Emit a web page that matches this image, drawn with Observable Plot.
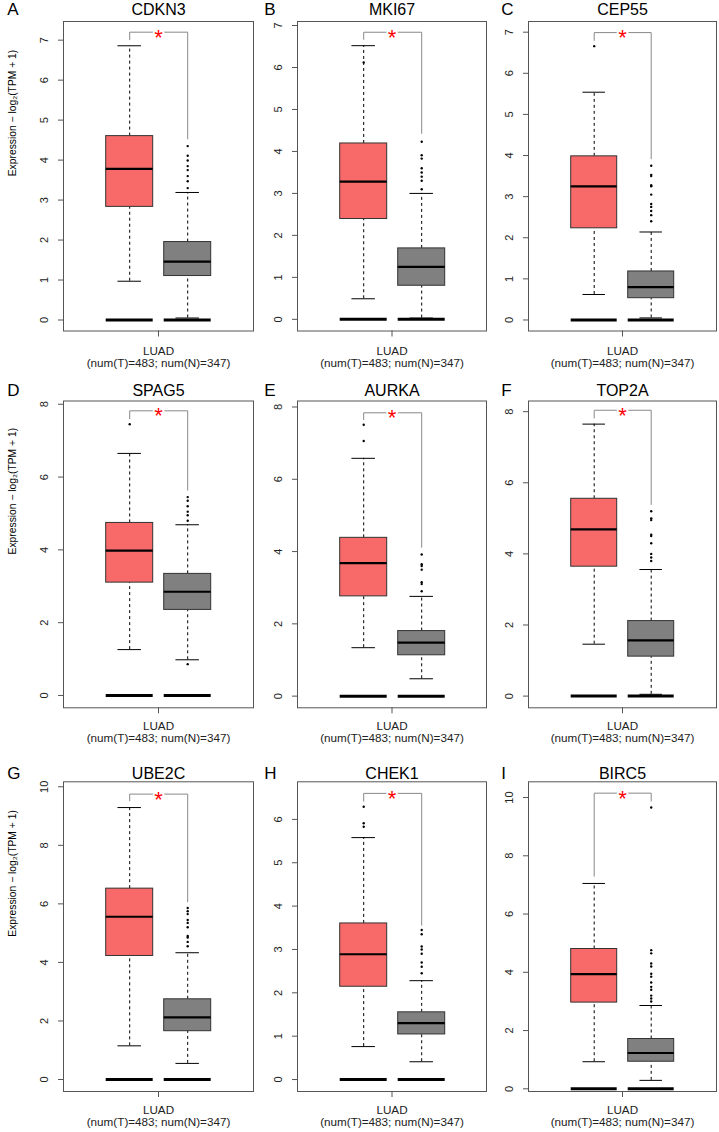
<!DOCTYPE html>
<html><head><meta charset="utf-8">
<script src="https://cdn.jsdelivr.net/npm/d3@7"></script>
<script src="https://cdn.jsdelivr.net/npm/@observablehq/plot@0.6"></script>
<style>
body{margin:0;background:#fff;}
#wrap{position:relative;width:719px;height:1132px;overflow:hidden;background:#fff;}
#wrap svg{position:absolute;}
</style></head><body><div id="wrap"></div>
<script>
// ---------- data ----------
const genes   = ["CDKN3","MKI67","CEP55","SPAG5","AURKA","TOP2A","UBE2C","CHEK1","BIRC5"];
const letters = ["A","B","C","D","E","F","G","H","I"];
const groups  = ["Tumor","Normal"];
const cancer  = "LUAD";
const numT = 483, numN = 347;
const yLabel = "Expression \u2212 log\u2082(TPM + 1)";
const sigMark = "*";
const zeroBar = 0;

// [min whisker, Q1, median, Q3, max whisker]
const tumorBox = [
  [0.97,2.83,3.78,4.60,6.86],
  [0.49,2.39,3.28,4.19,6.52],
  [0.62,2.23,3.25,3.98,5.54],
  [1.26,3.10,3.98,4.74,6.65],
  [1.34,2.76,3.68,4.38,6.58],
  [1.46,3.64,4.69,5.55,7.65],
  [1.15,4.22,5.56,6.52,9.29],
  [0.76,2.14,2.89,3.60,5.58],
  [0.93,2.96,3.94,4.80,7.05]
];
const normalBox = [
  [0.05,1.10,1.46,1.95,3.19],
  [0.03,0.80,1.25,1.69,3.00],
  [0.05,0.53,0.80,1.18,2.14],
  [0.98,2.35,2.85,3.34,4.69],
  [0.48,1.13,1.48,1.80,2.76],
  [0.05,1.11,1.57,2.11,3.56],
  [0.55,1.65,2.12,2.74,4.33],
  [0.41,1.04,1.30,1.55,2.28],
  [0.29,0.93,1.23,1.71,2.86]
];
// points lying beyond the whiskers
const tumorOutliers = [
  [], [6.12], [6.66], [7.45], [7.51,7.06], [], [], [6.29,5.91,5.83], []
];
const normalOutliers = [
  [4.35,4.11,3.99,3.85,3.75,3.60,3.47,3.30],
  [4.23,3.91,3.83,3.60,3.50,3.40,3.30,3.10],
  [3.75,3.53,3.50,3.28,3.25,3.05,2.82,2.75,2.65,2.55,2.40],
  [5.45,5.35,5.20,5.05,4.95,4.80,0.86],
  [3.92,3.65,3.60,3.50,3.15,3.10,2.90],
  [5.20,5.00,4.95,4.54,4.50,4.30,4.00,3.90,3.80],
  [5.86,5.75,5.65,5.45,5.35,5.20,4.90,4.85,4.70,4.55],
  [3.45,3.35,3.07,3.00,2.90,2.70,2.60,2.45],
  [9.66,4.76,4.65,4.30,4.20,3.95,3.85,3.65,3.50,3.40,3.20,3.10,3.00]
];
// significance bracket: [top, tumor foot, normal foot]
const bracket = [
  [7.20,7.01,4.53],[6.84,6.67,4.43],[6.99,6.80,3.92],
  [7.82,7.60,5.64],[7.84,7.65,4.12],[8.04,7.82,5.39],
  [9.75,9.52,6.07],[6.60,6.42,3.56],[10.15,7.30,9.88]
];
const yLimits = [
  [-0.275,7.467],[-0.278,7.096],[-0.268,7.26],
  [-0.339,8.09],[-0.323,8.166],[-0.329,8.30],
  [-0.41,10.17],[-0.276,6.867],[-0.092,10.54]
];
const yTicks = [
  [0,1,2,3,4,5,6,7],[0,1,2,3,4,5,6,7],[0,1,2,3,4,5,6,7],
  [0,2,4,6,8],[0,2,4,6,8],[0,2,4,6,8],
  [0,2,4,6,8,10],[0,1,2,3,4,5,6],[0,2,4,6,8,10]
];

// ---------- layout ----------
const FONT = '"Liberation Sans", Arial, Helvetica, sans-serif';
const colSvg   = [[0,258],[258,497],[497,719]];
const colFrame = [[63.3,253.7],[297.3,486.3],[527.3,716]];
const rowSvg   = [[0,378],[378,755],[755,1132]];
const rowFrame = [[21,330.5],[400.5,707.3],[781.3,1091]];
const titleDy  = [-6.5,-5.5,-2.5];
const letterDx = [-56.3,-33.3,-27.3];
const xPad     = [10,8,8];
const colors   = ["#F86A6A","#808080"];

const wrap = document.getElementById("wrap");
const xLabel = `${cancer}\n(num(T)=${numT}; num(N)=${numN})`;

for (let i = 0; i < 9; i++) {
  const col = i % 3, row = Math.floor(i / 3);
  const [sx0, sx1] = colSvg[col], [fx0, fx1] = colFrame[col];
  const [sy0, sy1] = rowSvg[row], [fy0, fy1] = rowFrame[row];
  const boxes = groups.map((g, j) => {
    const s = (j === 0 ? tumorBox : normalBox)[i];
    return {group: g, facet: xLabel, min: s[0], q1: s[1], med: s[2], q3: s[3], max: s[4], zero: zeroBar};
  });
  const pts = [
    ...tumorOutliers[i].map(v => ({group: groups[0], v})),
    ...normalOutliers[i].map(v => ({group: groups[1], v}))
  ];
  const [bt, bl, br] = bracket[i];
  const brk = [
    {group: groups[0], v: bl}, {group: groups[0], v: bt},
    {group: groups[1], v: bt}, {group: groups[1], v: br}
  ];
  const marks = [
    Plot.frame({stroke: "#555"}),
    Plot.axisY({ticks: yTicks[i], tickSize: 5, tickPadding: 11, tickRotate: -90, fontSize: 11, stroke: "#555", fill: "#222", label: null}),
    Plot.axisFx({anchor: "bottom", tickSize: 6, tickPadding: xPad[row], fontSize: 11.7, stroke: "#555", fill: "#222", label: null, lineHeight: 1}),
    Plot.tickY(boxes, {x: "group", y: "zero", stroke: "#000", strokeWidth: 3}),
    Plot.ruleX(boxes, {x: "group", y1: "q3", y2: "max", stroke: "#000", strokeDasharray: "3,3"}),
    Plot.ruleX(boxes, {x: "group", y1: "min", y2: "q1", stroke: "#000", strokeDasharray: "3,3"}),
    Plot.tickY(boxes, {x: "group", y: "max", stroke: "#000", insetLeft: 11.75, insetRight: 11.75}),
    Plot.tickY(boxes, {x: "group", y: "min", stroke: "#000", insetLeft: 11.75, insetRight: 11.75}),
    Plot.barY(boxes, {x: "group", y1: "q1", y2: "q3", fx: "facet", fill: "group", stroke: "#333", strokeWidth: 1}),
    Plot.tickY(boxes, {x: "group", y: "med", stroke: "#000", strokeWidth: 2.2}),
    Plot.dot(pts, {x: "group", y: "v", r: 1.2, fill: "#000", stroke: null}),
    Plot.line(brk, {x: "group", y: "v", stroke: "#888", strokeWidth: 1}),
    Plot.text([{v: bt, s: sigMark}], {y: "v", text: "s", fill: "#F00", fontSize: 22, stroke: "#fff", strokeWidth: 4, dy: 5.5}),
    Plot.text([genes[i]], {frameAnchor: "top", lineAnchor: "bottom", dy: titleDy[row], fontSize: 16, fill: "#000"}),
    Plot.text([letters[i]], {frameAnchor: "top-left", textAnchor: "start", lineAnchor: "bottom", dx: letterDx[col], dy: titleDy[row], fontSize: 17, fill: "#000"})
  ];
  if (col === 0) {
    marks.push(Plot.text([yLabel], {frameAnchor: "left", rotate: -90, dx: -50.6, fontSize: 10.3, fill: "#000"}));
  }
  const svg = Plot.plot({
    width: sx1 - sx0, height: sy1 - sy0,
    marginLeft: fx0 - sx0, marginRight: sx1 - fx1,
    marginTop: fy0 - sy0, marginBottom: sy1 - fy1,
    style: {fontFamily: FONT, background: "transparent", overflow: "visible"},
    fx: {domain: [xLabel], padding: 0, label: null},
    x: {type: "band", domain: groups, paddingInner: 0.198, paddingOuter: 0.72, axis: null},
    y: {domain: yLimits[i], axis: null},
    color: {domain: groups, range: colors},
    marks
  });
  svg.style.left = sx0 + "px";
  svg.style.top = sy0 + "px";
  wrap.appendChild(svg);
}
</script>
</body></html>
